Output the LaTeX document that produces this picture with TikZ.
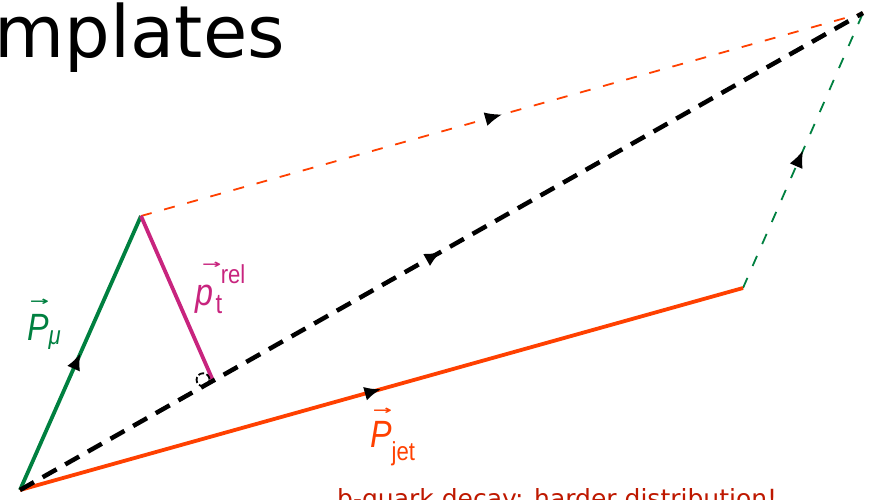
\documentclass[tikz,border=0pt]{standalone}
\usepackage{fontspec}
\usepackage{graphicx}
\setmainfont{DejaVu Sans}
\newfontfamily\labfont{Liberation Sans}
\newfontfamily\arrfont{DejaVu Sans}
\usetikzlibrary{arrows.meta,decorations.markings,calc}
\definecolor{mugreen}{RGB}{0,128,64}
\definecolor{jetred}{RGB}{255,64,0}
\definecolor{relmag}{RGB}{200,36,126}
\definecolor{darkred}{RGB}{190,24,0}
\newcommand\vecarrow[2]{\makebox[0pt][l]{\hspace*{#1}\raisebox{#2}{\arrfont\bfseries\fontsize{20}{20}\selectfont\scalebox{1.35}[0.6]{→}}}}
\newcommand\narrowlab[1]{\scalebox{0.85}[1]{#1}}
\newcommand\subsz{\fontsize{26}{26}\selectfont}
\tikzset{
  midarrow/.style={postaction={decorate},decoration={markings,
    mark=at position 0.5 with {\arrow{Latex[length=17pt,width=14pt,color=black]}}}},
  solidvec/.style={line width=3.8pt,midarrow},
  thindash/.style={line width=1.8pt,dash pattern=on 11pt off 13pt,midarrow},
  sumvec/.style={line width=4.5pt,black,dash pattern=on 16pt off 10pt,midarrow},
  lab/.style={anchor=base west,inner sep=0pt,font=\labfont\fontsize{38}{38}\selectfont},
}
\begin{document}
\begin{tikzpicture}[x=1pt,y=-1pt]
\useasboundingbox (0,0) rectangle (884,499);
% points
\coordinate (O) at (20,490);
\coordinate (M) at (141,216);
\coordinate (J) at (743,288);
\coordinate (S) at (863,13);
\coordinate (F) at ($(O)!0.229!(S)$);
% title and caption
\node[anchor=base east,inner sep=0pt,font=\fontsize{72}{72}\selectfont] (title) at (285,57) {mplates};
\node[anchor=base west,inner sep=0pt,text=darkred,font=\fontsize{25}{25}\selectfont] (caption) at (337,507) {b-quark decay: harder distribution!};
% dashed completion lines
\draw[thindash,jetred] (M) -- (S);
\draw[thindash,mugreen] (J) -- (S);
% solid vectors
\draw[solidvec,mugreen] (O) -- (M);
\draw[solidvec,jetred] (O) -- (J);
\draw[line width=3.8pt,relmag] (M) -- (F);
% sum vector
\draw[sumvec] (O) -- (S);
% right-angle mark
\draw[black,line width=1.8pt,dash pattern=on 6pt off 2.5pt] ($(F)+(-10,-1)$) circle (6.5);
% labels
\node[lab,text=mugreen] (lmu) at (27,340) {\narrowlab{\vecarrow{3pt}{35pt}\textit{P}\raisebox{-4pt}{\subsz\itshape μ}}};
\node[lab,text=relmag] (lrel) at (195,305) {\narrowlab{\vecarrow{8pt}{37pt}\textit{p}\hspace{3pt}\makebox[0pt][l]{\raisebox{-8pt}{\fontsize{28}{28}\selectfont t}}\hspace{6pt}\raisebox{22pt}{\subsz rel}}};
\node[lab,text=jetred] (ljet) at (370,447) {\narrowlab{\vecarrow{3pt}{33pt}\textit{P}\raisebox{-13pt}{\subsz jet}}};
\end{tikzpicture}
\end{document}
